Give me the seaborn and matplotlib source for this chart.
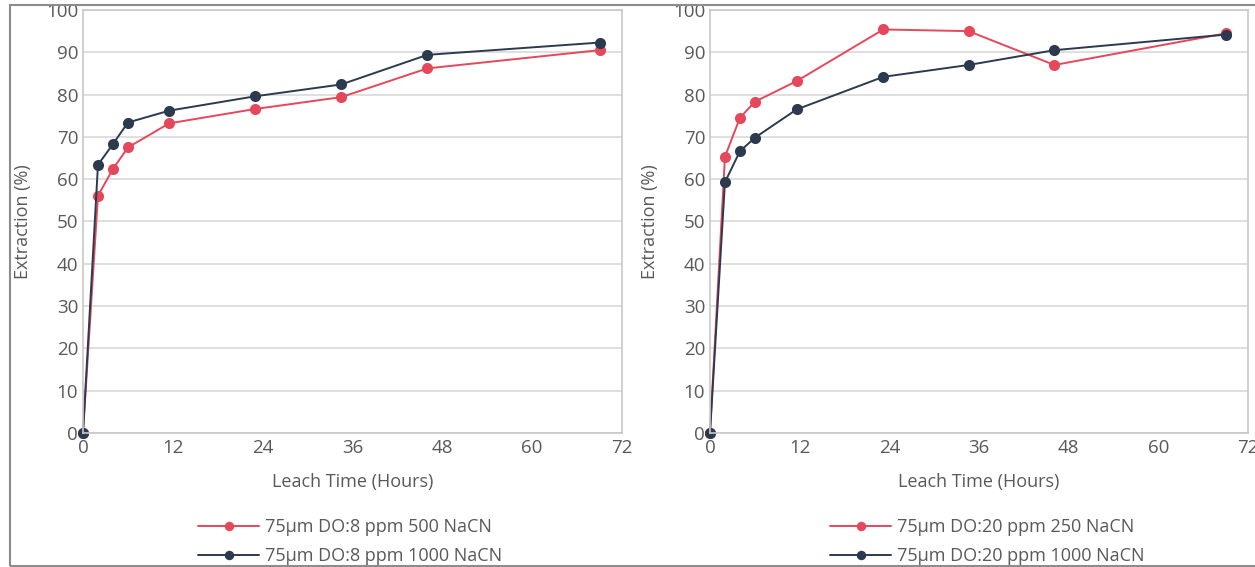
import matplotlib
matplotlib.use("Agg")
import matplotlib.pyplot as plt
import seaborn as sns
import pandas as pd
from matplotlib.patches import Rectangle

# ---- data ----
left_hours_500 = [0, 2, 4, 6, 11.5, 23, 34.5, 46, 69]
left_ext_500 = [0, 56.1, 62.4, 67.5, 73.2, 76.6, 79.4, 86.2, 90.5]
left_hours_1000 = [0, 2, 4, 6, 11.5, 23, 34.5, 46, 69]
left_ext_1000 = [0, 63.4, 68.3, 73.4, 76.2, 79.6, 82.4, 89.4, 92.3]

right_hours_250 = [0, 2, 4, 6, 11.6, 23.2, 34.6, 46.1, 69.1]
right_ext_250 = [0, 65.3, 74.5, 78.3, 83.2, 95.4, 95.0, 87.0, 94.5]
right_hours_1000 = [0, 2, 4, 6, 11.6, 23.2, 34.6, 46.1, 69.1]
right_ext_1000 = [0, 59.3, 66.6, 69.8, 76.5, 84.2, 87.0, 90.5, 94.2]

left_labels = ["75µm DO:8 ppm 500 NaCN", "75µm DO:8 ppm 1000 NaCN"]
right_labels = ["75µm DO:20 ppm 250 NaCN", "75µm DO:20 ppm 1000 NaCN"]
x_ticks = [0, 12, 24, 36, 48, 60, 72]
y_ticks = [0, 10, 20, 30, 40, 50, 60, 70, 80, 90, 100]

RED = "#E5485B"
DARK = "#2C3A4F"
TXT = "#595959"

sns.set_theme(style="white")
plt.rcParams["font.family"] = ["Open Sans", "DejaVu Sans"]

fig = plt.figure(figsize=(12.55, 5.67), dpi=100)
W, H = 1255, 567

def px_axes(x0, x1, y0, y1):
    return fig.add_axes([x0 / W, 1 - y1 / H, (x1 - x0) / W, (y1 - y0) / H])

axL = px_axes(83, 622, 10, 433)
axR = px_axes(710, 1248, 10, 433)

def draw(ax, hA, eA, hB, eB, labels, legend_cx):
    dfA = pd.DataFrame({"h": hA, "e": eA})
    dfB = pd.DataFrame({"h": hB, "e": eB})
    sns.lineplot(data=dfA, x="h", y="e", ax=ax, color=RED, marker="o",
                 markersize=8, markeredgewidth=0, linewidth=1.4, label=labels[0],
                 clip_on=False)
    sns.lineplot(data=dfB, x="h", y="e", ax=ax, color=DARK, marker="o",
                 markersize=8, markeredgewidth=0, linewidth=1.4, label=labels[1],
                 clip_on=False)
    ax.set_xlim(0, 72)
    ax.set_ylim(0, 100)
    ax.set_xticks(x_ticks)
    ax.set_yticks(y_ticks)
    ax.tick_params(axis="both", labelsize=13.5, colors=TXT, length=0)
    ax.tick_params(axis="x", pad=4)
    ax.tick_params(axis="y", pad=3.5)
    ax.yaxis.grid(True, color="#D9D9D9", linewidth=1.2)
    ax.xaxis.grid(False)
    for s in ax.spines.values():
        s.set_color("#C8C8C8")
        s.set_linewidth(1.2)
    ax.set_xlabel("Leach Time (Hours)", fontsize=13, color=TXT, labelpad=12)
    ax.set_ylabel("Extraction (%)", fontsize=13, color=TXT, labelpad=10)
    for lab in ax.get_xticklabels() + ax.get_yticklabels():
        lab.set_color(TXT)
    leg = ax.legend(loc="upper center", bbox_to_anchor=(legend_cx, -0.18),
                    frameon=False, fontsize=13, handlelength=3.4,
                    handletextpad=0.3, labelspacing=0.62, borderpad=0,
                    markerscale=0.85)
    for t in leg.get_texts():
        t.set_color(TXT)

draw(axL, left_hours_500, left_ext_500, left_hours_1000, left_ext_1000,
     left_labels, 0.495)
draw(axR, right_hours_250, right_ext_250, right_hours_1000, right_ext_1000,
     right_labels, 0.515)

# outer frame
fig.patches.append(Rectangle((10 / W, 1 - 566 / H), 1.5, (566 - 5) / H,
                             transform=fig.transFigure, fill=False,
                             edgecolor="#8C8C8C", linewidth=1.5))

fig.savefig("out.png", dpi=100)
